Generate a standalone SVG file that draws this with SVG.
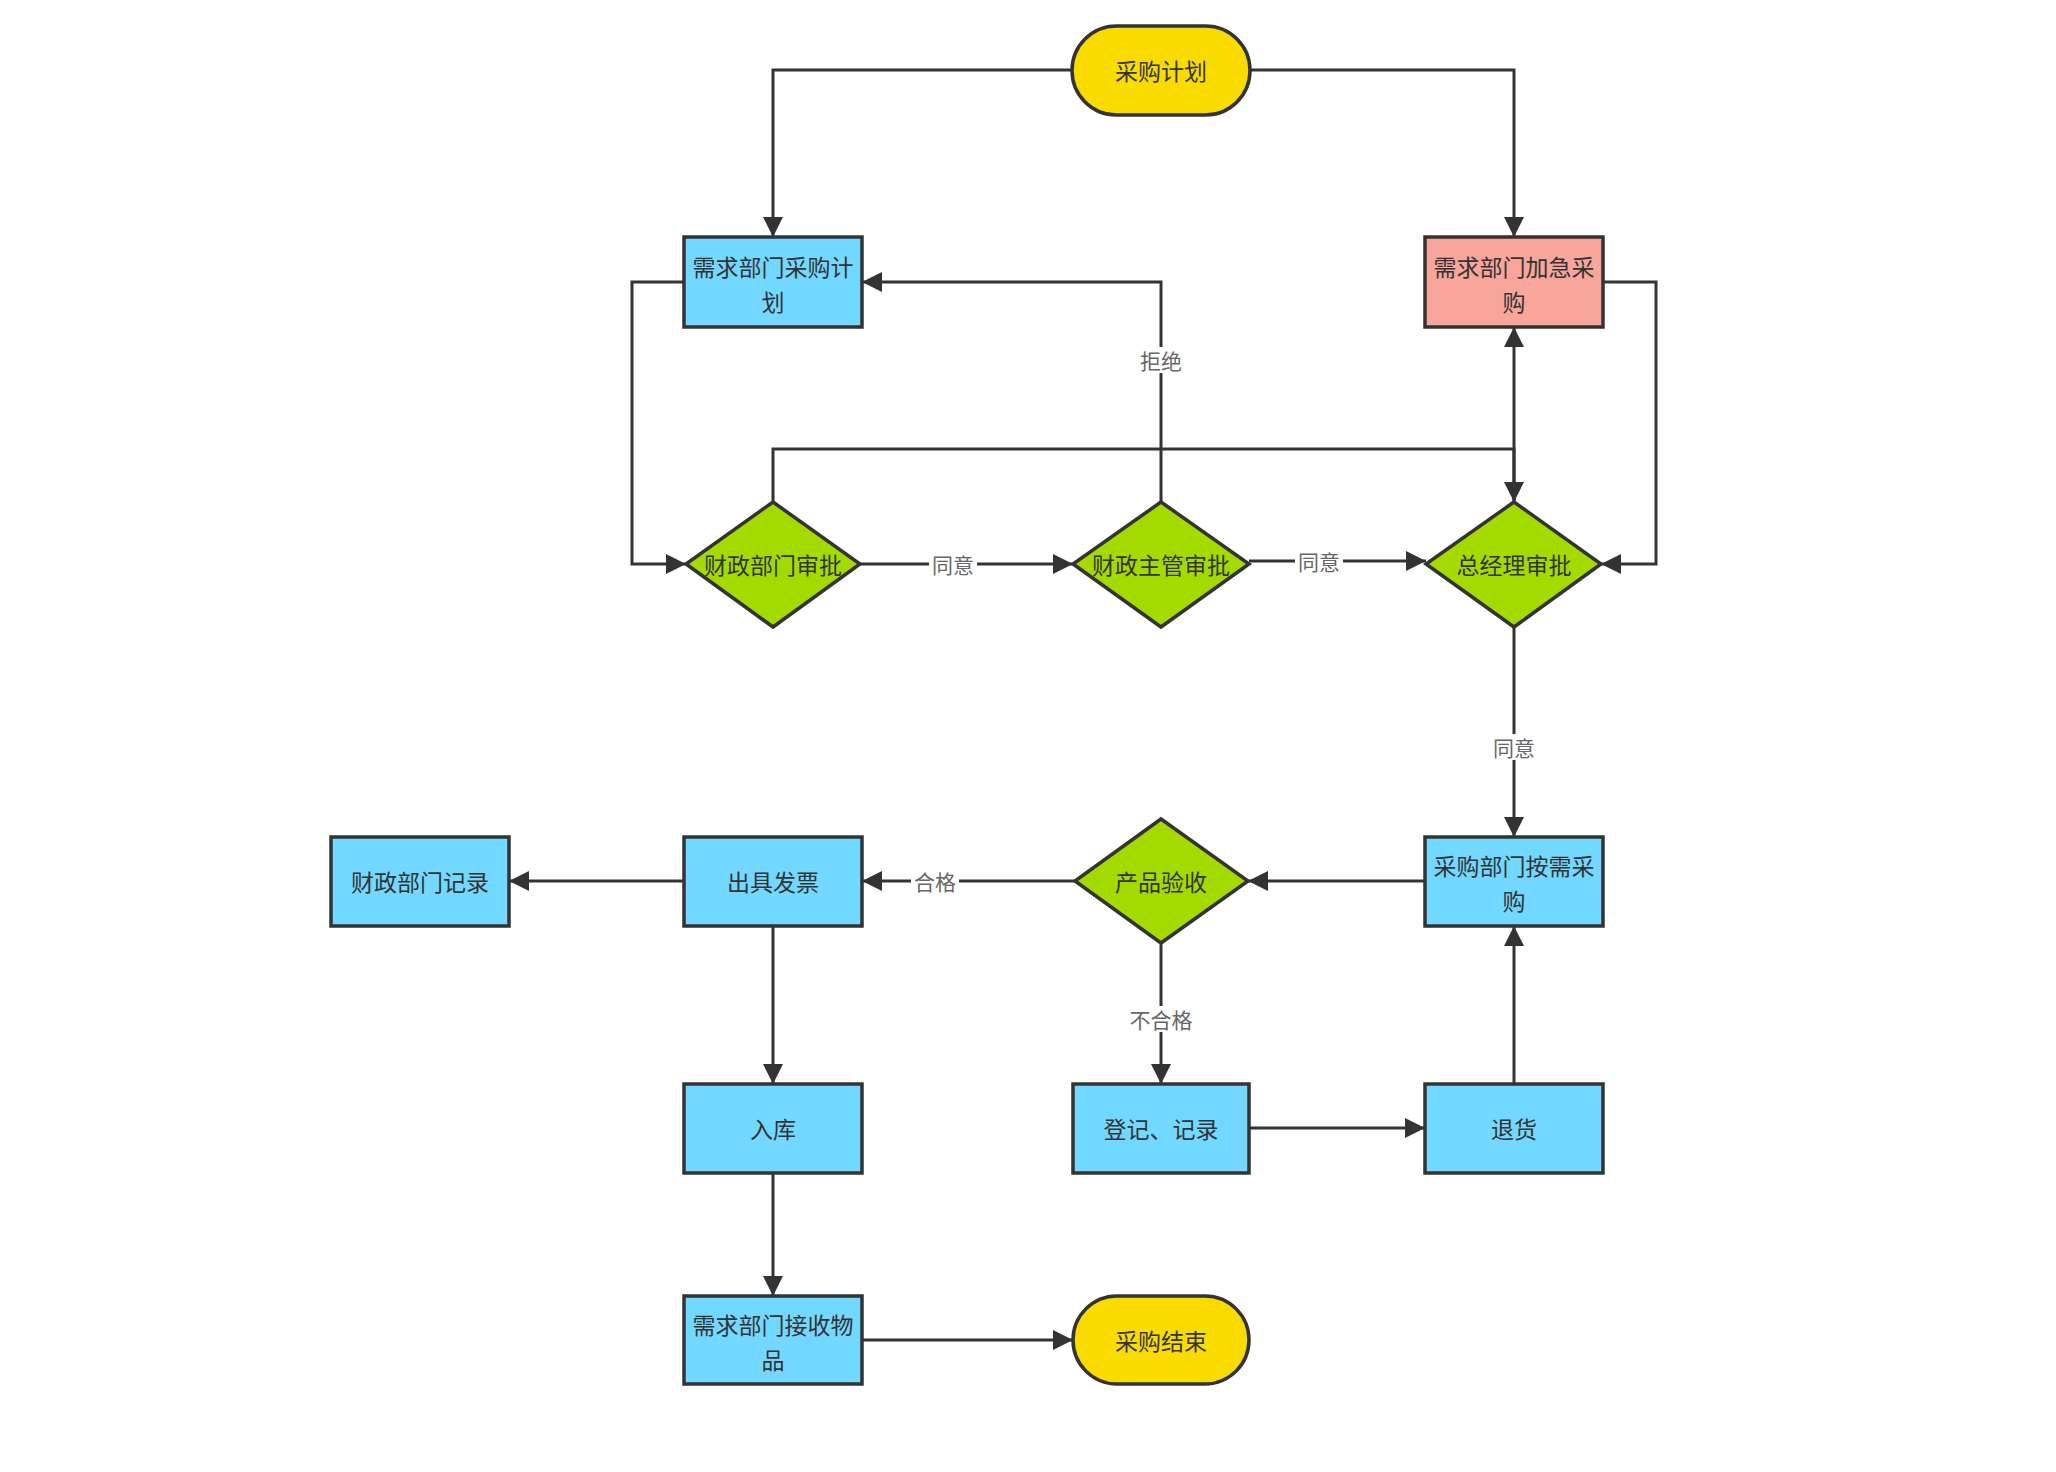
<svg xmlns="http://www.w3.org/2000/svg" width="2056" height="1472" viewBox="0 0 2056 1472">
<style>
.n{stroke:#333;stroke-width:3.5}
.blue{fill:#72D8FF}
.pink{fill:#F8A59B}
.yel{fill:#FADB00}
.grn{fill:#A3DB00}
.t{font-family:"Noto Sans CJK SC","Noto Sans",sans-serif;font-size:23px;fill:#333;text-anchor:middle;dominant-baseline:central}
.c{fill:none;stroke:#333;stroke-width:3}
.lb{font-family:"Noto Sans CJK SC","Noto Sans",sans-serif;font-size:21px;fill:#666;text-anchor:middle;dominant-baseline:central}
.lbg{fill:#fff}
</style>
<defs>
<marker id="a" markerUnits="userSpaceOnUse" markerWidth="22" markerHeight="22" refX="20" refY="10" orient="auto" viewBox="0 0 22 22">
<path d="M0,0 L20,10 L0,20 z" fill="#333"/>
</marker>
</defs>
<rect width="2056" height="1472" fill="#fff"/>
<g id="connectors">
<path class="c" marker-end="url(#a)" d="M1072,70 H773 V237"/>
<path class="c" marker-end="url(#a)" d="M1250,70 H1514 V237"/>
<path class="c" marker-end="url(#a)" d="M684,282 H632 V564 H686"/>
<path class="c" marker-end="url(#a)" d="M860,564 H1073"/>
<path class="c" marker-end="url(#a)" d="M1249,561 H1426"/>
<path class="c" marker-end="url(#a)" d="M1161,502 V282 H862"/>
<path class="c" marker-end="url(#a)" d="M773,502 V449 H1514 V502"/>
<path class="c" marker-end="url(#a)" d="M1514,502 V327"/>
<path class="c" marker-end="url(#a)" d="M1603,282 H1656 V564 H1601"/>
<path class="c" marker-end="url(#a)" d="M1514,627 V837"/>
<path class="c" marker-end="url(#a)" d="M1426,881 H1248"/>
<path class="c" marker-end="url(#a)" d="M1075,881 H862"/>
<path class="c" marker-end="url(#a)" d="M684,881 H509"/>
<path class="c" marker-end="url(#a)" d="M773,926 V1084"/>
<path class="c" marker-end="url(#a)" d="M1161,943 V1084"/>
<path class="c" marker-end="url(#a)" d="M1249,1128 H1425"/>
<path class="c" marker-end="url(#a)" d="M1514,1084 V926"/>
<path class="c" marker-end="url(#a)" d="M773,1173 V1296"/>
<path class="c" marker-end="url(#a)" d="M862,1340 H1073"/>
<rect class="lbg" x="929" y="551" width="48" height="26"/>
<text class="lb" x="953" y="564">同意</text>
<rect class="lbg" x="1295" y="548" width="48" height="26"/>
<text class="lb" x="1319" y="561">同意</text>
<rect class="lbg" x="1137" y="347" width="48" height="26"/>
<text class="lb" x="1161" y="360">拒绝</text>
<rect class="lbg" x="1490" y="734" width="48" height="26"/>
<text class="lb" x="1514" y="747">同意</text>
<rect class="lbg" x="911" y="868" width="48" height="26"/>
<text class="lb" x="935" y="881">合格</text>
<rect class="lbg" x="1127" y="1006" width="68" height="26"/>
<text class="lb" x="1161" y="1019">不合格</text>
</g>
<g id="start">
<rect class="n yel" x="1072" y="26" width="178" height="89" rx="44.5"/>
<text class="t" x="1161" y="70">采购计划</text>
</g>
<g id="dept-plan">
<rect class="n blue" x="684" y="237" width="178" height="90"/>
<text class="t" x="773" y="266">需求部门采购计</text>
<text class="t" x="773" y="301">划</text>
</g>
<g id="urgent">
<rect class="n pink" x="1425" y="237" width="178" height="90"/>
<text class="t" x="1514" y="266">需求部门加急采</text>
<text class="t" x="1514" y="301">购</text>
</g>
<g id="fin-dept">
<polygon class="n grn" points="773,502 860,564 773,627 686,564"/>
<text class="t" x="773" y="564">财政部门审批</text>
</g>
<g id="fin-mgr">
<polygon class="n grn" points="1161,502 1249,564 1161,627 1073,564"/>
<text class="t" x="1161" y="564">财政主管审批</text>
</g>
<g id="gm">
<polygon class="n grn" points="1514,502 1601,564 1514,627 1426,564"/>
<text class="t" x="1514" y="564">总经理审批</text>
</g>
<g id="purchase">
<rect class="n blue" x="1425" y="837" width="178" height="89"/>
<text class="t" x="1514" y="865">采购部门按需采</text>
<text class="t" x="1514" y="900">购</text>
</g>
<g id="inspect">
<polygon class="n grn" points="1161,819 1248,881 1161,943 1075,881"/>
<text class="t" x="1161" y="881">产品验收</text>
</g>
<g id="invoice">
<rect class="n blue" x="684" y="837" width="178" height="89"/>
<text class="t" x="773" y="881">出具发票</text>
</g>
<g id="fin-record">
<rect class="n blue" x="331" y="837" width="178" height="89"/>
<text class="t" x="420" y="881">财政部门记录</text>
</g>
<g id="storage">
<rect class="n blue" x="684" y="1084" width="178" height="89"/>
<text class="t" x="773" y="1128">入库</text>
</g>
<g id="register">
<rect class="n blue" x="1073" y="1084" width="176" height="89"/>
<text class="t" x="1161" y="1128">登记、记录</text>
</g>
<g id="return">
<rect class="n blue" x="1425" y="1084" width="178" height="89"/>
<text class="t" x="1514" y="1128">退货</text>
</g>
<g id="receive">
<rect class="n blue" x="684" y="1296" width="178" height="88"/>
<text class="t" x="773" y="1324">需求部门接收物</text>
<text class="t" x="773" y="1359">品</text>
</g>
<g id="end">
<rect class="n yel" x="1073" y="1296" width="176" height="88" rx="44"/>
<text class="t" x="1161" y="1340">采购结束</text>
</g>
</svg>
